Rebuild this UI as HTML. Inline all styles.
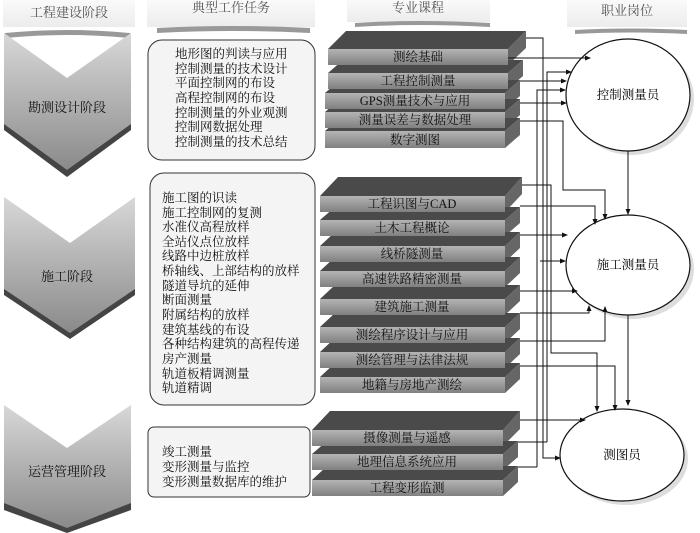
<!DOCTYPE html>
<html><head><meta charset="utf-8"><style>
body{margin:0;background:#fff}
svg{display:block}
text{font-family:"Liberation Serif","Noto Serif CJK SC","Noto Sans CJK SC",serif;}
</style></head><body>
<svg width="700" height="533" viewBox="0 0 700 533" xmlns="http://www.w3.org/2000/svg">
<defs>
<linearGradient id="chev" x1="0" y1="0" x2="0" y2="1">
<stop offset="0" stop-color="#d8d8d8"/><stop offset="1" stop-color="#8a8a8a"/></linearGradient>
<linearGradient id="front" x1="0" y1="0" x2="0" y2="1">
<stop offset="0" stop-color="#b4b4b4"/><stop offset="1" stop-color="#808080"/></linearGradient>
<linearGradient id="hdr" x1="0" y1="0" x2="0" y2="1">
<stop offset="0" stop-color="#fafafa"/><stop offset="1" stop-color="#ececec"/></linearGradient>
<marker id="ar" markerWidth="6" markerHeight="6" refX="5" refY="3" orient="auto"><path d="M0,0.5 L6,3 L0,5.5z" fill="#111"/></marker>
</defs>

<!-- headers -->
<rect x="3" y="0" width="132" height="27" fill="url(#hdr)"/>
<text x="69" y="17" font-size="13" fill="#555" text-anchor="middle">工程建设阶段</text>
<rect x="147" y="0" width="168" height="27" fill="url(#hdr)"/>
<text x="231" y="12" font-size="13" fill="#555" text-anchor="middle">典型工作任务</text>
<path d="M157,28 Q231,24 310,28 L310,33 Q231,29 157,33z" fill="#999"/>
<rect x="347" y="0" width="143" height="22" fill="url(#hdr)"/>
<text x="418" y="12" font-size="13" fill="#555" text-anchor="middle">专业课程</text>
<path d="M355,23 Q418,19 490,23 L490,27 Q418,23 355,27z" fill="#999"/>
<rect x="567" y="0" width="120" height="27" fill="url(#hdr)"/>
<text x="627" y="15" font-size="13" fill="#555" text-anchor="middle">职业岗位</text>
<path d="M575,30 Q627,27 687,30 L687,34 Q627,31 575,34z" fill="#999"/>
<path d="M5,33 Q67,27 130,33 L130,38 Q67,32 5,38z" fill="#999"/>

<!-- chevrons -->
<path d="M4,38 L67,83 L131,38 L131,130 L67,177 L4,130z" fill="#444"/>
<path d="M4,33 L67,78 L131,33 L131,124 L67,170 L4,124z" fill="url(#chev)"/>
<text x="67" y="112" font-size="13" text-anchor="middle" fill="#111">勘测设计阶段</text>
<path d="M4,202 L70,248 L135,202 L135,295 L70,339 L4,295z" fill="#444"/>
<path d="M4,197 L70,243 L135,197 L135,289 L70,333 L4,289z" fill="url(#chev)"/>
<text x="67" y="281" font-size="13" text-anchor="middle" fill="#111">施工阶段</text>
<path d="M4,410 L67,453 L131,410 L131,510 L67,533 L4,510z" fill="#444"/>
<path d="M4,405 L67,448 L131,405 L131,503 L67,528 L4,503z" fill="url(#chev)"/>
<text x="67" y="476" font-size="13" text-anchor="middle" fill="#111">运营管理阶段</text>

<!-- task boxes -->
<g font-size="12.5" fill="#111">
<rect x="148" y="40" width="167" height="120" rx="14" fill="#f4f4f4" stroke="#333" stroke-width="1"/>
<text x="175" y="58">地形图的判读与应用</text>
<text x="175" y="73">控制测量的技术设计</text>
<text x="175" y="87">平面控制网的布设</text>
<text x="175" y="102">高程控制网的布设</text>
<text x="175" y="117">控制测量的外业观测</text>
<text x="175" y="131">控制网数据处理</text>
<text x="175" y="146">控制测量的技术总结</text>

<rect x="150" y="173" width="165" height="232" rx="14" fill="#f4f4f4" stroke="#333" stroke-width="1"/>
<text x="162" y="202">施工图的识读</text>
<text x="162" y="217">施工控制网的复测</text>
<text x="162" y="231">水准仪高程放样</text>
<text x="162" y="246">全站仪点位放样</text>
<text x="162" y="260">线路中边桩放样</text>
<text x="162" y="275">桥轴线、上部结构的放样</text>
<text x="162" y="290">隧道导坑的延伸</text>
<text x="162" y="304">断面测量</text>
<text x="162" y="319">附属结构的放样</text>
<text x="162" y="334">建筑基线的布设</text>
<text x="162" y="348">各种结构建筑的高程传递</text>
<text x="162" y="363">房产测量</text>
<text x="162" y="378">轨道板精调测量</text>
<text x="162" y="392">轨道精调</text>

<rect x="148" y="427" width="162" height="70" rx="6" fill="#f4f4f4" stroke="#333" stroke-width="1"/>
<text x="162" y="456">竣工测量</text>
<text x="162" y="471">变形测量与监控</text>
<text x="162" y="486">变形测量数据库的维护</text>
</g>

<!-- slab tops & sides -->
<g>
<path d="M328,49 L346,31 L526,31 L508,49z" fill="#4a4a4a"/><path d="M508,49 L526,31 L526,48 L508,65z" fill="#666"/>
<path d="M328,73 L343,60 L523,60 L508,73z" fill="#4a4a4a"/><path d="M508,73 L523,60 L523,76 L508,89z" fill="#666"/>
<path d="M325,93 L340,80 L520,80 L505,93z" fill="#4a4a4a"/><path d="M505,93 L520,80 L520,96 L505,109z" fill="#666"/>
<path d="M325,112 L340,99 L520,99 L505,112z" fill="#4a4a4a"/><path d="M505,112 L520,99 L520,115 L505,128z" fill="#666"/>
<path d="M325,131 L340,118 L520,118 L505,131z" fill="#4a4a4a"/><path d="M505,131 L520,118 L520,135 L505,148z" fill="#666"/>

<path d="M320,196 L338,177 L522,177 L505,196z" fill="#4a4a4a"/><path d="M505,196 L522,177 L522,194 L505,212z" fill="#666"/>
<path d="M320,220 L335,207 L520,207 L505,220z" fill="#4a4a4a"/><path d="M505,220 L520,207 L520,223 L505,236z" fill="#666"/>
<path d="M320,246 L335,232 L520,232 L505,246z" fill="#4a4a4a"/><path d="M505,246 L520,232 L520,248 L505,262z" fill="#666"/>
<path d="M320,271 L335,257 L520,257 L505,271z" fill="#4a4a4a"/><path d="M505,271 L520,257 L520,273 L505,287z" fill="#666"/>
<path d="M320,299 L335,285 L520,285 L505,299z" fill="#4a4a4a"/><path d="M505,299 L520,285 L520,301 L505,315z" fill="#666"/>
<path d="M320,327 L335,313 L520,313 L505,327z" fill="#4a4a4a"/><path d="M505,327 L520,313 L520,329 L505,343z" fill="#666"/>
<path d="M320,352 L335,338 L520,338 L505,352z" fill="#4a4a4a"/><path d="M505,352 L520,338 L520,354 L505,368z" fill="#666"/>
<path d="M320,377 L335,363 L520,363 L505,377z" fill="#4a4a4a"/><path d="M505,377 L520,363 L520,379 L505,393z" fill="#666"/>

<path d="M312,430 L330,411 L520,411 L503,430z" fill="#4a4a4a"/><path d="M503,430 L520,411 L520,429 L503,446z" fill="#666"/>
<path d="M312,454 L327,441 L518,441 L503,454z" fill="#4a4a4a"/><path d="M503,454 L518,441 L518,457 L503,470z" fill="#666"/>
<path d="M312,480 L327,466 L518,466 L503,480z" fill="#4a4a4a"/><path d="M503,480 L518,466 L518,482 L503,496z" fill="#666"/>
</g>
<!-- slab fronts -->
<g fill="url(#front)">
<rect x="328" y="49" width="180" height="16"/>
<rect x="328" y="73" width="180" height="16"/>
<rect x="325" y="93" width="180" height="16"/>
<rect x="325" y="112" width="180" height="16"/>
<rect x="325" y="131" width="180" height="17"/>
<rect x="320" y="196" width="185" height="16"/>
<rect x="320" y="220" width="185" height="16"/>
<rect x="320" y="246" width="185" height="16"/>
<rect x="320" y="271" width="185" height="16"/>
<rect x="320" y="299" width="185" height="16"/>
<rect x="320" y="327" width="185" height="16"/>
<rect x="320" y="352" width="185" height="16"/>
<rect x="320" y="377" width="185" height="16"/>
<rect x="312" y="430" width="191" height="16"/>
<rect x="312" y="454" width="191" height="16"/>
<rect x="312" y="480" width="191" height="16"/>
</g>
<g font-size="12.5" fill="#111" text-anchor="middle">
<text x="418" y="61">测绘基础</text>
<text x="418" y="85">工程控制测量</text>
<text x="415" y="105">GPS测量技术与应用</text>
<text x="415" y="124">测量误差与数据处理</text>
<text x="415" y="144">数字测图</text>
<text x="412" y="208">工程识图与CAD</text>
<text x="412" y="232">土木工程概论</text>
<text x="412" y="258">线桥隧测量</text>
<text x="412" y="283">高速铁路精密测量</text>
<text x="412" y="311">建筑施工测量</text>
<text x="412" y="339">测绘程序设计与应用</text>
<text x="412" y="364">测绘管理与法律法规</text>
<text x="412" y="389">地籍与房地产测绘</text>
<text x="407" y="442">摄像测量与遥感</text>
<text x="407" y="466">地理信息系统应用</text>
<text x="407" y="492">工程变形监测</text>
</g>

<!-- ellipses -->
<ellipse cx="632" cy="99" rx="62" ry="56" fill="#ddd"/>
<ellipse cx="628" cy="95" rx="62" ry="56" fill="#fff" stroke="#111" stroke-width="1.2"/>
<text x="628" y="99" font-size="12.5" text-anchor="middle">控制测量员</text>
<ellipse cx="632" cy="269" rx="62" ry="50" fill="#ddd"/>
<ellipse cx="628" cy="265" rx="62" ry="50" fill="#fff" stroke="#111" stroke-width="1.2"/>
<text x="628" y="269" font-size="12.5" text-anchor="middle">施工测量员</text>
<ellipse cx="626" cy="459" rx="62" ry="46" fill="#ddd"/>
<ellipse cx="622" cy="455" rx="62" ry="46" fill="#fff" stroke="#111" stroke-width="1.2"/>
<text x="622" y="459" font-size="12.5" text-anchor="middle">测图员</text>

<!-- connectors -->
<g stroke="#111" stroke-width="1" fill="none">
<path d="M526,38 H543 V458 H560" marker-end="url(#ar)"/>
<path d="M508,58 H590" marker-end="url(#ar)"/>
<path d="M547,442 V72 H571" marker-end="url(#ar)"/>
<path d="M520,81 H566" marker-end="url(#ar)"/>
<path d="M537,467 V90 H565" marker-end="url(#ar)"/>
<path d="M520,103 H566" marker-end="url(#ar)"/>
<path d="M520,121 H563 V190 H605 V219" marker-end="url(#ar)"/>
<path d="M628,151 V214" marker-end="url(#ar)"/>
<path d="M628,315 V405" marker-end="url(#ar)"/>
<path d="M522,185 H551 V353 H597 V411" marker-end="url(#ar)"/>
<path d="M520,206 H595 V224" marker-end="url(#ar)"/>
<path d="M520,235 H567" marker-end="url(#ar)"/>
<path d="M540,261 H565" marker-end="url(#ar)"/>
<path d="M520,291 H577" marker-end="url(#ar)"/>
<path d="M520,313 H589 V306" marker-end="url(#ar)"/>
<path d="M520,341 H605 V307" marker-end="url(#ar)"/>
<path d="M520,366 H615 V410" marker-end="url(#ar)"/>
<path d="M520,420 H585" marker-end="url(#ar)"/>
<path d="M518,442 H547"/>
<path d="M518,467 H537"/>
</g>
</svg>
</body></html>
